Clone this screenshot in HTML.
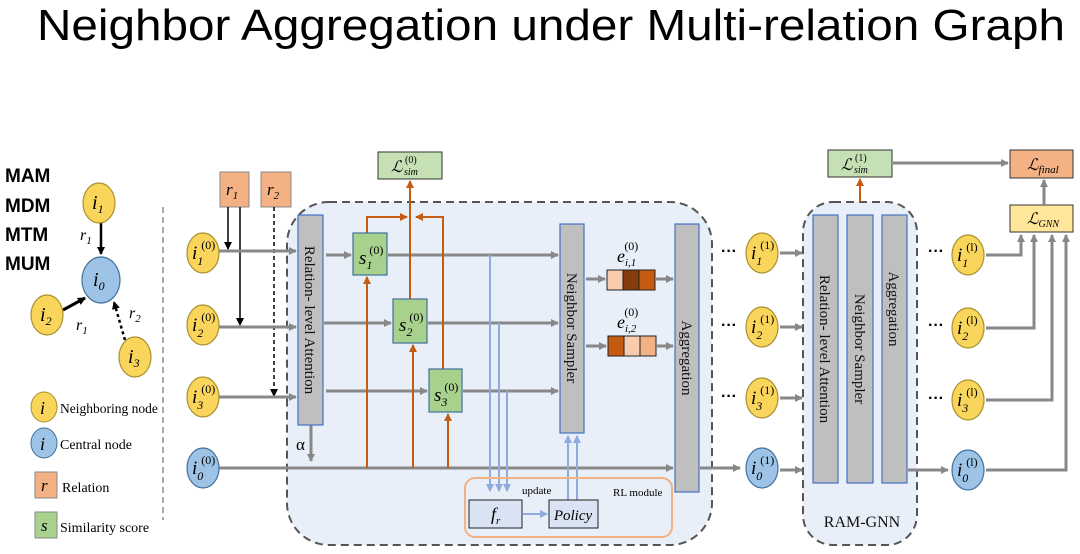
<!DOCTYPE html>
<html><head><meta charset="utf-8"><style>
html,body{margin:0;padding:0;background:#fff;width:1080px;height:554px;overflow:hidden}
svg{display:block}
.t{font-family:"Liberation Serif",serif}
.m{font-family:"Liberation Serif",serif;font-style:italic}
</style></head><body>
<svg width="1080" height="554" viewBox="0 0 1080 554" xmlns="http://www.w3.org/2000/svg">
<defs>
<marker id="ag" markerWidth="8" markerHeight="8" refX="7" refY="4" orient="auto" markerUnits="userSpaceOnUse" viewBox="0 0 8 8"><path d="M0,0 L8,4 L0,8 z" fill="#888"/></marker>
<marker id="ao" markerWidth="8" markerHeight="8" refX="7" refY="4" orient="auto" markerUnits="userSpaceOnUse" viewBox="0 0 8 8"><path d="M0,0 L8,4 L0,8 z" fill="#c55a11"/></marker>
<marker id="ab" markerWidth="8" markerHeight="8" refX="7" refY="4" orient="auto" markerUnits="userSpaceOnUse" viewBox="0 0 8 8"><path d="M0,0 L8,4 L0,8 z" fill="#8faadc"/></marker>
<marker id="ak" markerWidth="8" markerHeight="8" refX="7" refY="4" orient="auto" markerUnits="userSpaceOnUse" viewBox="0 0 8 8"><path d="M0,0 L8,4 L0,8 z" fill="#000"/></marker>
</defs>

<text x="551" y="40" text-anchor="middle" font-family="Liberation Sans, sans-serif" font-size="44" textLength="1028" lengthAdjust="spacingAndGlyphs">Neighbor Aggregation under Multi-relation Graph</text>

<g font-family="Liberation Sans, sans-serif" font-weight="bold" font-size="19">
<text x="5" y="182">MAM</text><text x="5" y="212">MDM</text><text x="5" y="241">MTM</text><text x="5" y="270">MUM</text>
</g>

<!-- left graph -->
<line x1="101" y1="223" x2="101" y2="254" stroke="#000" stroke-width="2.5" marker-end="url(#ak)"/>
<line x1="63" y1="310" x2="85" y2="298" stroke="#000" stroke-width="3" marker-end="url(#ak)"/>
<line x1="125" y1="340" x2="114" y2="302" stroke="#000" stroke-width="2.5" stroke-dasharray="3,3" marker-end="url(#ak)"/>
<g class="m" font-size="16"><text x="80" y="240">r<tspan font-size="11" dy="4">1</tspan></text><text x="76" y="330">r<tspan font-size="11" dy="4">1</tspan></text><text x="129" y="318">r<tspan font-size="11" dy="4">2</tspan></text></g>
<g stroke-width="1.2">
<ellipse cx="99" cy="203" rx="16" ry="20" fill="#f9d55b" stroke="#a8912f"/>
<ellipse cx="101" cy="280" rx="19" ry="23" fill="#9dc3e6" stroke="#41719c"/>
<ellipse cx="47" cy="315" rx="16" ry="20" fill="#f9d55b" stroke="#a8912f"/>
<ellipse cx="135" cy="357" rx="16" ry="20" fill="#f9d55b" stroke="#a8912f"/>
</g>
<g class="m" font-size="20">
<text x="92" y="209">i<tspan font-size="12" dy="4">1</tspan></text>
<text x="93" y="286">i<tspan font-size="12" dy="4">0</tspan></text>
<text x="40" y="321">i<tspan font-size="12" dy="4">2</tspan></text>
<text x="128" y="363">i<tspan font-size="12" dy="4">3</tspan></text>
</g>
<line x1="163" y1="207" x2="163" y2="520" stroke="#aaa" stroke-width="2" stroke-dasharray="6,4"/>

<!-- legend -->
<ellipse cx="44" cy="407" rx="13" ry="15" fill="#f9d55b" stroke="#a8912f"/>
<text x="40" y="414" class="m" font-size="18">i</text>
<text x="60" y="413" class="t" font-size="13.5">Neighboring node</text>
<ellipse cx="44" cy="443" rx="13" ry="15" fill="#9dc3e6" stroke="#41719c"/>
<text x="40" y="450" class="m" font-size="18">i</text>
<text x="60" y="449" class="t" font-size="14">Central node</text>
<rect x="35" y="472" width="22" height="26" fill="#f4b183" stroke="#888"/>
<text x="41" y="491" class="m" font-size="17">r</text>
<text x="62" y="492" class="t" font-size="14">Relation</text>
<rect x="35" y="512" width="22" height="26" fill="#a9d18e" stroke="#888"/>
<text x="41" y="531" class="m" font-size="17">s</text>
<text x="60" y="532" class="t" font-size="14">Similarity score</text>

<!-- big dashed box -->
<rect x="287" y="202" width="425" height="343" rx="42" fill="#e8eff8" stroke="#555" stroke-width="2" stroke-dasharray="8,5"/>
<rect x="803" y="202" width="114" height="343" rx="30" fill="#e8eff8" stroke="#555" stroke-width="2" stroke-dasharray="8,5"/>

<!-- r boxes -->
<rect x="220" y="172" width="29" height="35" fill="#f4b183" stroke="#888"/>
<text x="226" y="195" class="m" font-size="17">r<tspan font-size="11" dy="4">1</tspan></text>
<rect x="261" y="172" width="30" height="35" fill="#f4b183" stroke="#888"/>
<text x="267" y="195" class="m" font-size="17">r<tspan font-size="11" dy="4">2</tspan></text>
<line x1="228" y1="207" x2="228" y2="249" stroke="#000" stroke-width="1.5" marker-end="url(#ak)"/>
<line x1="240" y1="207" x2="240" y2="325" stroke="#000" stroke-width="1.5" marker-end="url(#ak)"/>
<line x1="274" y1="207" x2="274" y2="396" stroke="#000" stroke-width="1.5" stroke-dasharray="4,3" marker-end="url(#ak)"/>

<!-- main horizontal gray lines -->
<g stroke="#888" stroke-width="3" fill="none">
<line x1="219" y1="251" x2="296" y2="251" marker-end="url(#ag)"/>
<line x1="219" y1="327" x2="296" y2="327" marker-end="url(#ag)"/>
<line x1="219" y1="397" x2="296" y2="397" marker-end="url(#ag)"/>
<line x1="219" y1="468" x2="673" y2="468" marker-end="url(#ag)"/>
<line x1="326" y1="255" x2="351" y2="255" marker-end="url(#ag)"/>
<line x1="388" y1="255" x2="558" y2="255" marker-end="url(#ag)"/>
<line x1="324" y1="323" x2="391" y2="323" marker-end="url(#ag)"/>
<line x1="428" y1="323" x2="558" y2="323" marker-end="url(#ag)"/>
<line x1="326" y1="391" x2="427" y2="391" marker-end="url(#ag)"/>
<line x1="463" y1="391" x2="558" y2="391" marker-end="url(#ag)"/>
<line x1="586" y1="279" x2="605" y2="279" marker-end="url(#ag)"/>
<line x1="656" y1="279" x2="673" y2="279" marker-end="url(#ag)"/>
<line x1="586" y1="346" x2="606" y2="346" marker-end="url(#ag)"/>
<line x1="657" y1="346" x2="673" y2="346" marker-end="url(#ag)"/>
<line x1="311" y1="425" x2="311" y2="461" marker-end="url(#ag)"/>
<line x1="700" y1="468" x2="740" y2="468" marker-end="url(#ag)"/>
</g>
<text x="296" y="450" class="t" font-size="17">α</text>

<!-- orange -->
<g stroke="#c55a11" stroke-width="2" fill="none">
<line x1="367" y1="468" x2="367" y2="277" marker-end="url(#ao)"/>
<line x1="413" y1="468" x2="413" y2="345" marker-end="url(#ao)"/>
<line x1="448" y1="468" x2="448" y2="414" marker-end="url(#ao)"/>
<polyline points="367,233 367,217 407,217" marker-end="url(#ao)"/>
<polyline points="443,369 443,217 416,217" marker-end="url(#ao)"/>
<line x1="410" y1="299" x2="410" y2="181" marker-end="url(#ao)"/>
<line x1="860" y1="202" x2="860" y2="179" marker-end="url(#ao)"/>
</g>

<!-- blue lines -->
<g stroke="#8faadc" stroke-width="2" fill="none">
<line x1="490" y1="255" x2="490" y2="491" marker-end="url(#ab)"/>
<line x1="499" y1="323" x2="499" y2="491" marker-end="url(#ab)"/>
<line x1="507" y1="391" x2="507" y2="491" marker-end="url(#ab)"/>
<line x1="568" y1="500" x2="568" y2="436" marker-end="url(#ab)"/>
<line x1="577" y1="500" x2="577" y2="436" marker-end="url(#ab)"/>
<line x1="523" y1="514" x2="547" y2="514" marker-end="url(#ab)"/>
</g>

<!-- s boxes -->
<g fill="#a9d18e" stroke="#41719c" stroke-width="1.2">
<rect x="353" y="233" width="34" height="42"/>
<rect x="393" y="299" width="34" height="44"/>
<rect x="429" y="369" width="33" height="43"/>
</g>
<g class="m" font-size="19">
<text x="359" y="264">s<tspan font-size="12" dy="5">1</tspan><tspan font-size="12" class="t" font-style="normal" dx="-3" dy="-15">(0)</tspan></text>
<text x="399" y="331">s<tspan font-size="12" dy="5">2</tspan><tspan font-size="12" font-style="normal" dx="-3" dy="-15">(0)</tspan></text>
<text x="434" y="401">s<tspan font-size="12" dy="5">3</tspan><tspan font-size="12" font-style="normal" dx="-3" dy="-15">(0)</tspan></text>
</g>

<!-- L boxes -->
<rect x="378" y="152" width="64" height="27" fill="#c5e0b4" stroke="#333"/>
<text x="391" y="172" class="m" font-size="16">ℒ</text>
<text x="404" y="175" class="m" font-size="10">sim</text>
<text x="405" y="163" class="t" font-size="10">(0)</text>
<rect x="828" y="150" width="64" height="27" fill="#c5e0b4" stroke="#333"/>
<text x="841" y="170" class="m" font-size="16">ℒ</text>
<text x="854" y="173" class="m" font-size="10">sim</text>
<text x="855" y="161" class="t" font-size="10">(1)</text>
<rect x="1010" y="150" width="63" height="28" fill="#f4b183" stroke="#333"/>
<text x="1027" y="170" class="m" font-size="16">ℒ<tspan font-size="11" dy="3">final</tspan></text>
<rect x="1010" y="205" width="63" height="27" fill="#ffe699" stroke="#333"/>
<text x="1027" y="224" class="m" font-size="16">ℒ<tspan font-size="10" dy="3">GNN</tspan></text>
<g stroke="#888" stroke-width="3" fill="none">
<line x1="893" y1="163" x2="1008" y2="163" marker-end="url(#ag)"/>
<line x1="1044" y1="205" x2="1044" y2="180" marker-end="url(#ag)"/>
<polyline points="986,255 1021,255 1021,235" marker-end="url(#ag)"/>
<polyline points="986,328 1034,328 1034,235" marker-end="url(#ag)"/>
<polyline points="986,400 1052,400 1052,235" marker-end="url(#ag)"/>
<polyline points="986,470 1066,470 1066,235" marker-end="url(#ag)"/>
<line x1="780" y1="253" x2="802" y2="253" marker-end="url(#ag)"/>
<line x1="780" y1="327" x2="802" y2="327" marker-end="url(#ag)"/>
<line x1="780" y1="398" x2="802" y2="398" marker-end="url(#ag)"/>
<line x1="780" y1="470" x2="802" y2="470" marker-end="url(#ag)"/>
<line x1="908" y1="470" x2="948" y2="470" marker-end="url(#ag)"/>
</g>

<!-- bars -->
<g fill="#bfbfbf" stroke="#4472c4" stroke-width="1.2">
<rect x="298" y="215" width="25" height="210"/>
<rect x="560" y="224" width="24" height="209"/>
<rect x="675" y="224" width="24" height="268"/>
<rect x="813" y="215" width="25" height="268"/>
<rect x="847" y="215" width="26" height="268"/>
<rect x="882" y="215" width="25" height="268"/>
</g>
<g class="t" font-size="15" fill="#111">
<text transform="translate(305,320) rotate(90)" text-anchor="middle">Relation- level Attention</text>
<text transform="translate(567,328) rotate(90)" text-anchor="middle">Neighbor Sampler</text>
<text transform="translate(682,358) rotate(90)" text-anchor="middle">Aggregation</text>
<text transform="translate(820,349) rotate(90)" text-anchor="middle">Relation- level Attention</text>
<text transform="translate(855,349) rotate(90)" text-anchor="middle">Neighbor Sampler</text>
<text transform="translate(889,309) rotate(90)" text-anchor="middle">Aggregation</text>
<text x="862" y="527" text-anchor="middle" font-size="16">RAM-GNN</text>
</g>

<!-- e vectors -->
<rect x="607" y="270" width="16" height="20" fill="#f8cbad" stroke="#222"/>
<rect x="623" y="270" width="16" height="20" fill="#843c0c" stroke="#222"/>
<rect x="639" y="270" width="16" height="20" fill="#c55a11" stroke="#222"/>
<rect x="608" y="336" width="16" height="20" fill="#c55a11" stroke="#222"/>
<rect x="624" y="336" width="16" height="20" fill="#f8cbad" stroke="#222"/>
<rect x="640" y="336" width="16" height="20" fill="#f4b183" stroke="#222"/>
<g class="m" font-size="18">
<text x="617" y="262">e<tspan font-size="11" dy="4">i,1</tspan><tspan font-size="12" font-style="normal" dx="-12" dy="-16">(0)</tspan></text>
<text x="617" y="328">e<tspan font-size="11" dy="4">i,2</tspan><tspan font-size="12" font-style="normal" dx="-12" dy="-16">(0)</tspan></text>
</g>

<!-- RL module -->
<rect x="465" y="478" width="207" height="59" rx="10" fill="none" stroke="#f4b183" stroke-width="2"/>
<rect x="469" y="500" width="53" height="28" fill="#dae3f3" stroke="#222"/>
<text x="491" y="520" class="m" font-size="18">f<tspan font-size="11" dy="4">r</tspan></text>
<rect x="549" y="500" width="49" height="28" fill="#dae3f3" stroke="#222"/>
<text x="573" y="520" class="m" font-size="15" text-anchor="middle">Policy</text>
<text x="522" y="494" class="t" font-size="11">update</text>
<text x="613" y="496" class="t" font-size="11">RL module</text>

<!-- nodes -->
<g stroke-width="1.2">
<ellipse cx="203" cy="253" rx="16" ry="20" fill="#f9d55b" stroke="#a8912f"/>
<ellipse cx="203" cy="325" rx="16" ry="20" fill="#f9d55b" stroke="#a8912f"/>
<ellipse cx="203" cy="397" rx="16" ry="20" fill="#f9d55b" stroke="#a8912f"/>
<ellipse cx="203" cy="468" rx="16" ry="20" fill="#9dc3e6" stroke="#41719c"/>
<ellipse cx="762" cy="253" rx="16" ry="20" fill="#f9d55b" stroke="#a8912f"/>
<ellipse cx="762" cy="327" rx="16" ry="20" fill="#f9d55b" stroke="#a8912f"/>
<ellipse cx="762" cy="398" rx="16" ry="20" fill="#f9d55b" stroke="#a8912f"/>
<ellipse cx="762" cy="468" rx="16" ry="20" fill="#9dc3e6" stroke="#41719c"/>
<ellipse cx="968" cy="255" rx="16" ry="20" fill="#f9d55b" stroke="#a8912f"/>
<ellipse cx="968" cy="328" rx="16" ry="20" fill="#f9d55b" stroke="#a8912f"/>
<ellipse cx="968" cy="400" rx="16" ry="20" fill="#f9d55b" stroke="#a8912f"/>
<ellipse cx="968" cy="470" rx="16" ry="20" fill="#9dc3e6" stroke="#41719c"/>
</g>
<g class="m" font-size="19">
<text x="192" y="259">i<tspan font-size="12" dy="6">1</tspan><tspan font-size="12" font-style="normal" dx="-2" dy="-16">(0)</tspan></text>
<text x="192" y="331">i<tspan font-size="12" dy="6">2</tspan><tspan font-size="12" font-style="normal" dx="-2" dy="-16">(0)</tspan></text>
<text x="192" y="403">i<tspan font-size="12" dy="6">3</tspan><tspan font-size="12" font-style="normal" dx="-2" dy="-16">(0)</tspan></text>
<text x="192" y="474">i<tspan font-size="12" dy="6">0</tspan><tspan font-size="12" font-style="normal" dx="-2" dy="-16">(0)</tspan></text>
<text x="751" y="259">i<tspan font-size="12" dy="6">1</tspan><tspan font-size="12" font-style="normal" dx="-2" dy="-16">(1)</tspan></text>
<text x="751" y="333">i<tspan font-size="12" dy="6">2</tspan><tspan font-size="12" font-style="normal" dx="-2" dy="-16">(1)</tspan></text>
<text x="751" y="404">i<tspan font-size="12" dy="6">3</tspan><tspan font-size="12" font-style="normal" dx="-2" dy="-16">(1)</tspan></text>
<text x="751" y="474">i<tspan font-size="12" dy="6">0</tspan><tspan font-size="12" font-style="normal" dx="-2" dy="-16">(1)</tspan></text>
<text x="957" y="261">i<tspan font-size="12" dy="6">1</tspan><tspan font-size="12" font-style="normal" dx="-2" dy="-16">(l)</tspan></text>
<text x="957" y="334">i<tspan font-size="12" dy="6">2</tspan><tspan font-size="12" font-style="normal" dx="-2" dy="-16">(l)</tspan></text>
<text x="957" y="406">i<tspan font-size="12" dy="6">3</tspan><tspan font-size="12" font-style="normal" dx="-2" dy="-16">(l)</tspan></text>
<text x="957" y="476">i<tspan font-size="12" dy="6">0</tspan><tspan font-size="12" font-style="normal" dx="-2" dy="-16">(l)</tspan></text>
</g>
<g font-family="Liberation Sans, sans-serif" font-weight="bold" font-size="16">
<text x="721" y="256">···</text><text x="721" y="330">···</text><text x="721" y="401">···</text>
<text x="928" y="256">···</text><text x="928" y="330">···</text><text x="928" y="403">···</text>
</g>
</svg>
</body></html>
